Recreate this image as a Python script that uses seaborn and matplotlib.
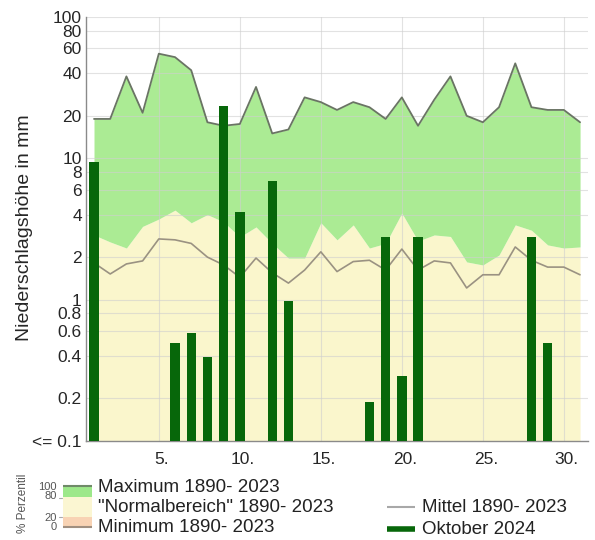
import numpy as np
import pandas as pd
import matplotlib
matplotlib.use("Agg")
import matplotlib.pyplot as plt
import matplotlib.transforms as mtransforms
import seaborn as sns
from matplotlib.patches import Rectangle
from matplotlib.lines import Line2D

days = list(range(1, 32))
maximum = [19, 19, 38, 21, 55, 52, 42, 18, 17, 17.5, 32, 15, 16, 27, 25, 22,
           25, 23, 19, 27, 17, 26, 38, 20, 18, 23, 47, 23, 22, 22, 18]
p80 = [2.87, 2.56, 2.32, 3.3, 3.72, 4.3, 3.5, 4.0, 3.55, 2.78, 3.27, 2.5, 1.97,
       1.97, 3.5, 2.65, 3.38, 2.32, 2.5, 4.1, 2.6, 2.87, 2.8, 1.85, 1.76, 2.07,
       3.38, 3.1, 2.44, 2.32, 2.36]
mean = [1.82, 1.52, 1.79, 1.88, 2.69, 2.65, 2.5, 2.0, 1.76, 1.44, 1.97, 1.55,
        1.31, 1.62, 2.18, 1.58, 1.86, 1.9, 1.62, 2.28, 1.62, 1.88, 1.82, 1.21,
        1.5, 1.5, 2.36, 1.9, 1.7, 1.7, 1.5]
okt2024 = [9.4, 0, 0, 0, 0, 0.49, 0.58, 0.39, 23.5, 4.2, 0, 6.9, 0.98, 0, 0, 0,
           0, 0.19, 2.78, 0.29, 2.78, 0, 0, 0, 0, 0, 0, 2.78, 0.49, 0, 0]

ytick_vals = [0.1, 0.2, 0.4, 0.6, 0.8, 1, 2, 4, 6, 8, 10, 20, 40, 60, 80, 100]
ytick_labels = ["<= 0.1", "0.2", "0.4", "0.6", "0.8", "1", "2", "4", "6", "8",
                "10", "20", "40", "60", "80", "100"]
xtick_vals = [5, 10, 15, 20, 25, 30]
xtick_labels = ["5.", "10.", "15.", "20.", "25.", "30."]

df = pd.DataFrame({"day": days, "max": maximum, "p80": p80, "mean": mean,
                   "obs": okt2024})

sns.set_theme(style="white")
plt.rcParams["font.family"] = ["Liberation Sans", "DejaVu Sans"]

W, H = 595, 540
fig = plt.figure(figsize=(W / 100, H / 100), dpi=100)
L, R, T, B = 86, 588, 17, 441
ax = fig.add_axes([L / W, 1 - B / H, (R - L) / W, (B - T) / H])
ax.set_yscale("log")
ax.set_ylim(0.1, 100)
ax.set_xlim(0.506, 31.49)

green = "#abeb94"
cream = "#faf6cc"
floor = 0.1

ax.fill_between(df["day"], floor, df["p80"], color=cream, lw=0, zorder=1)
ax.fill_between(df["day"], df["p80"], df["max"], color=green, lw=0, zorder=1)

# grid on top of fills
for v in ytick_vals[1:]:
    ax.axhline(v, color="#cfcfcf", lw=0.8, alpha=0.6, zorder=2)
for v in xtick_vals:
    ax.axvline(v, color="#cfcfcf", lw=0.8, alpha=0.6, zorder=2)

sns.lineplot(data=df, x="day", y="max", ax=ax, color="#6a7464", lw=1.3,
             zorder=3, legend=False)
sns.lineplot(data=df, x="day", y="mean", ax=ax, color="#9a9282", lw=1.2,
             zorder=3, legend=False)

obs = df[df["obs"] > 0]
ax.bar(obs["day"], obs["obs"] - floor, bottom=floor, width=0.58,
       color="#07670a", lw=0, edgecolor="none", zorder=4)

ax.set_yticks(ytick_vals)
ax.set_yticklabels(ytick_labels, fontsize=12.5)
ax.yaxis.set_minor_locator(matplotlib.ticker.NullLocator())
ax.set_xticks(xtick_vals)
ax.set_xticklabels(xtick_labels, fontsize=12.5)
ax.set_xticks(days, minor=True)
ax.tick_params(axis="x", which="major", length=0, pad=8)
ax.tick_params(axis="x", which="minor", length=3, direction="in",
               color="#909090")
ax.tick_params(axis="y", length=0, pad=3)
offset = mtransforms.ScaledTranslation(3 / 100, 0, fig.dpi_scale_trans)
for lab in ax.get_xticklabels():
    lab.set_transform(lab.get_transform() + offset)

ax.set_xlabel("")
ax.set_ylabel("Niederschlagshöhe in mm", fontsize=14)
ax.yaxis.set_label_coords(-0.106, 0.503)
for side in ["top", "right"]:
    ax.spines[side].set_visible(False)
for side in ["left", "bottom"]:
    ax.spines[side].set_color("#8a8a8a")
    ax.spines[side].set_linewidth(1.0)

# legend drawn in pixel coordinates
lg = fig.add_axes([0, 0, 1, 1], zorder=5)
lg.set_xlim(0, W)
lg.set_ylim(H, 0)
lg.axis("off")
lg.patch.set_alpha(0)

lg.add_patch(Rectangle((63, 486), 29, 11, color="#9de88a", lw=0))
lg.add_patch(Rectangle((63, 497), 29, 20, color="#fbf6d2", lw=0))
lg.add_patch(Rectangle((63, 517), 29, 10, color="#f8d3b4", lw=0))
lg.add_line(Line2D([63, 92], [486, 486], color="#6f8a68", lw=1.5,
                   solid_capstyle="butt"))
lg.add_line(Line2D([63, 92], [527, 527], color="#a08f80", lw=1.5,
                   solid_capstyle="butt"))
lg.add_line(Line2D([59, 62], [498, 498], color="#aaaaaa", lw=0.8))
lg.add_line(Line2D([59, 62], [517, 517], color="#aaaaaa", lw=0.8))
for txt, yy in [("100", 487), ("80", 496), ("20", 518), ("0", 527)]:
    lg.text(57, yy, txt, fontsize=8, ha="right", va="center", color="#555555")
lg.text(23, 503, "% Perzentil", fontsize=8.5, rotation=90, ha="center",
        va="center", color="#555555")

fs = 13.5
lg.text(98, 488, "Maximum 1890- 2023", fontsize=fs, va="center", color="#222222")
lg.text(98, 507, "\"Normalbereich\" 1890- 2023", fontsize=fs, va="center",
        color="#222222")
lg.text(98, 527, "Minimum 1890- 2023", fontsize=fs, va="center", color="#222222")

lg.add_line(Line2D([387, 415], [507, 507], color="#a8a8a8", lw=1.5,
                   solid_capstyle="butt"))
lg.add_line(Line2D([387, 415], [529, 529], color="#07670a", lw=4,
                   solid_capstyle="butt"))
lg.text(422, 507, "Mittel 1890- 2023", fontsize=fs, va="center", color="#222222")
lg.text(422, 529, "Oktober 2024", fontsize=fs, va="center", color="#222222")

fig.savefig("out.png", dpi=100, facecolor="white")
